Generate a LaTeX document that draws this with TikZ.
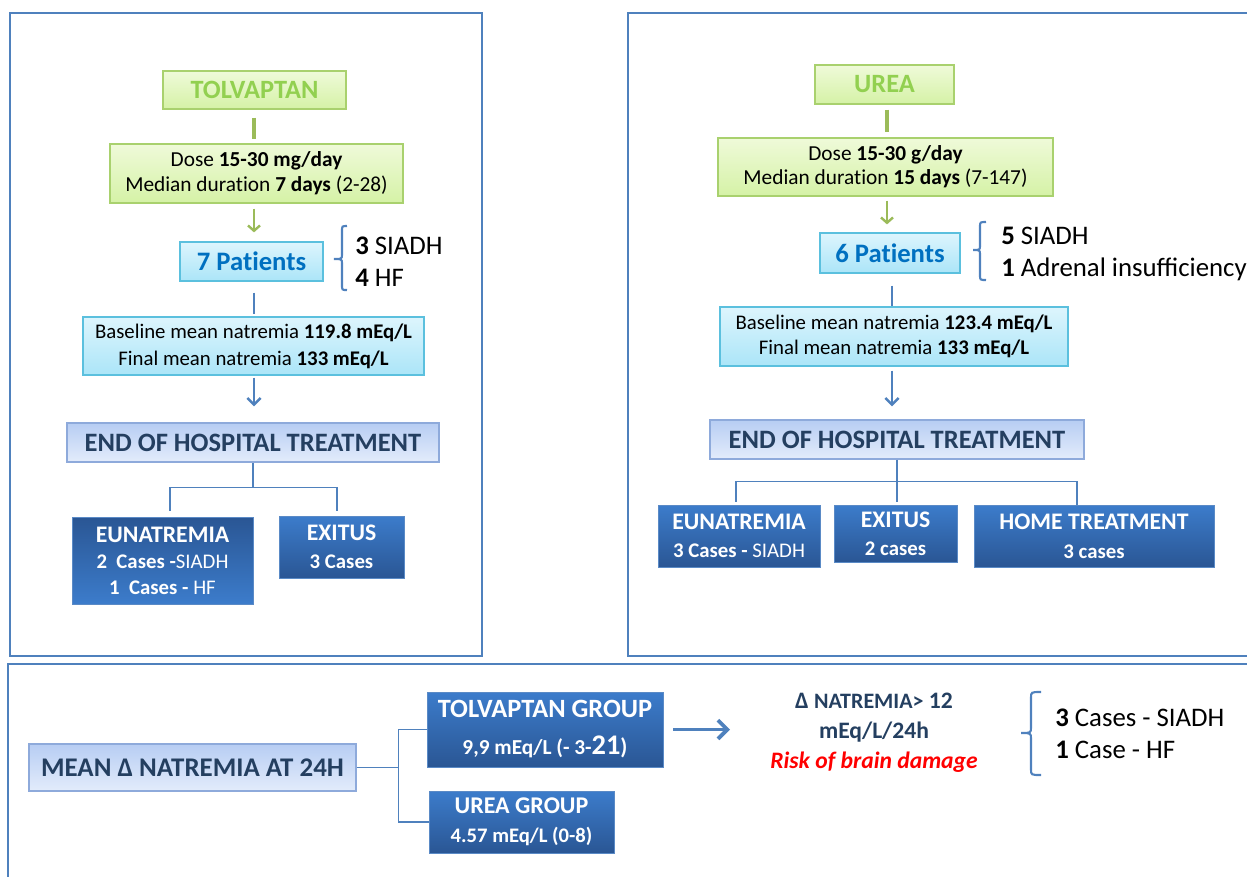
\documentclass[tikz,border=0pt]{standalone}
\usepackage{fontspec}
\setmainfont{Carlito}
\usetikzlibrary{arrows.meta,calc}
\definecolor{framecol}{HTML}{4F81BD}
\definecolor{greenedge}{HTML}{A9D16E}
\definecolor{greentop}{HTML}{EFFAD9}
\definecolor{greenbot}{HTML}{D5F2A6}
\definecolor{tolvgreen}{HTML}{92D050}
\definecolor{glinecol}{HTML}{9BBB59}
\definecolor{cyanedge}{HTML}{5BC0DE}
\definecolor{cyantop}{HTML}{DDF5FD}
\definecolor{cyanbot}{HTML}{ABE5F8}
\definecolor{patblue}{HTML}{0070C0}
\definecolor{lavedge}{HTML}{8EAADB}
\definecolor{lavtop}{HTML}{B7CDF3}
\definecolor{lavbot}{HTML}{E3ECFB}
\definecolor{navytext}{HTML}{243F60}
\definecolor{dlight}{HTML}{3C7CCB}
\definecolor{ddark}{HTML}{2A5694}
\definecolor{dedge}{HTML}{5A8AC6}
\definecolor{riskred}{HTML}{FF0000}
\newcommand\fz[2]{\fontsize{#1}{#2}\selectfont}
\newcommand\tisep{t\kern0pt i}
\begin{document}
\begin{tikzpicture}[x=0.75pt,y=-0.75pt,
  frame/.style={draw=framecol, line width=1.5pt},
  gbox/.style={draw=greenedge, line width=0.9pt, top color=greentop, bottom color=greenbot, align=center, inner sep=0pt},
  cbox/.style={draw=cyanedge, line width=0.9pt, top color=cyantop, bottom color=cyanbot, align=center, inner sep=0pt},
  lbox/.style={draw=lavedge, line width=0.9pt, top color=lavtop, bottom color=lavbot, align=center, inner sep=0pt, text=navytext, font=\fz{19.9}{22}\bfseries},
  dup/.style={draw=dedge, line width=0.6pt, top color=dlight, bottom color=ddark, align=center, inner sep=0pt, text=white},
  ddown/.style={draw=dedge, line width=0.6pt, top color=ddark, bottom color=dlight, align=center, inner sep=0pt, text=white},
  gln/.style={draw=glinecol, line width=2.4pt},
  garr/.style={draw=glinecol, line width=1.8pt, -{Straight Barb[length=4pt,width=9pt]}},
  bln/.style={draw=framecol, line width=2.2pt},
  barr/.style={draw=framecol, line width=1.9pt, -{Straight Barb[length=5pt,width=10pt]}},
  bigarr/.style={draw=framecol, line width=2.8pt, -{Straight Barb[length=7pt,width=14pt]}},
  conn/.style={draw=framecol, line width=0.8pt},
  brc/.style={draw=framecol, line width=1.6pt},
  lbl/.style={align=left, anchor=west, inner sep=0pt, font=\fz{20.1}{24}},
]
\useasboundingbox (0,0) rectangle (1247,876);
% frames
\draw[frame] (10,13) rectangle (482,656);
\draw[frame] (628,13) rectangle (1262,656);
\draw[frame] (8,664) rectangle (1262,890);

% ---------- left panel ----------
\node[gbox, minimum width=137.25pt, minimum height=28.5pt, text=tolvgreen, font=\fz{19.8}{21}\bfseries] (tolv) at (254.5,90) {TOLVAPTAN};
\node[gbox, minimum width=219.75pt, minimum height=44.25pt, font=\fz{16}{18.75}] (dose1) at (256.5,173.5) {Dose \textbf{15-30 mg/day}\\Median dura\tisep on \textbf{7 days} (2-28)};
\node[cbox, minimum width=107.25pt, minimum height=29.25pt, text=patblue, font=\fz{20}{23}\bfseries] (pat1) at (251.5,261.5) {7 Pa\tisep ents};
\node[lbl] (cause1) at (355,261.5) {\textbf{3} SIADH\\\textbf{4} HF};
\node[cbox, minimum width=255.75pt, minimum height=43.5pt, font=\fz{15.6}{20}] (base1) at (253.5,346) {Baseline mean natremia \textbf{119.8 mEq/L}\\Final mean natremia \textbf{133 mEq/L}};
\node[lbox, minimum width=279pt, minimum height=29.25pt] (end1) at (253,442.5) {END OF HOSPITAL TREATMENT};
\node[ddown, minimum width=135.75pt, minimum height=65.25pt, font=\fz{15.6}{19.5}\bfseries] (eun1) at (162.5,560.5) {{\fz{17.8}{19.5}EUNATREMIA}\\2\ \ Cases -{\mdseries SIADH}\\1\ \ Cases - {\mdseries HF}};
\node[dup, minimum width=93.75pt, minimum height=46.5pt, font=\fz{15.6}{21}\bfseries] (exi1) at (341.5,547) {{\fz{17.8}{21}EXITUS}\\3 Cases};

\coordinate (axL) at (254,0);
\draw[gln, shorten <=6pt, shorten >=3pt] (tolv.south -| axL) -- (dose1.north -| axL);
\draw[garr, shorten <=3.75pt, shorten >=6.75pt] (dose1.south -| axL) -- (pat1.north -| axL);
\draw[bln, shorten <=8.25pt, shorten >=1.5pt] (pat1.south -| axL) -- (base1.north -| axL);
\draw[barr, shorten <=1.5pt, shorten >=12pt] (base1.south -| axL) -- (end1.north -| axL);
\draw[conn] (end1.south) -- ++(0,24.5) coordinate (jL);
\draw[conn] ([xshift=5.6pt,yshift=4.5pt]eun1.north) |- (jL) -| ([xshift=-3.4pt,yshift=3.75pt]exi1.north);
\draw[brc] (347,226) .. controls (342,226) .. (342,231) -- (342,254) .. controls (342,259) .. (334,259) .. controls (342,259) .. (342,264) -- (342,285) .. controls (342,290) .. (347,290);

% ---------- right panel ----------
\node[gbox, minimum width=104.25pt, minimum height=29.25pt, text=tolvgreen, font=\fz{19.8}{21}\bfseries] (urea) at (884.5,84.5) {UREA};
\node[gbox, minimum width=251.25pt, minimum height=43.5pt, font=\fz{16}{18}] (dose2) at (885.5,167) {Dose \textbf{15-30 g/day}\\Median dura\tisep on \textbf{15 days} (7-147)};
\node[cbox, minimum width=105pt, minimum height=30pt, text=patblue, font=\fz{20}{23}\bfseries] (pat2) at (890,253) {6 Pa\tisep ents};
\node[lbl] (cause2) at (1001,254) {\textbf{5} SIADH\\\textbf{1} Adrenal insufficiency};
\node[cbox, minimum width=261pt, minimum height=44.25pt, font=\fz{15.6}{18.75}] (base2) at (894,336.5) {Baseline mean natremia \textbf{123.4 mEq/L}\\Final mean natremia \textbf{133 mEq/L}};
\node[lbox, minimum width=280.5pt, minimum height=29.25pt] (end2) at (897,439.5) {END OF HOSPITAL TREATMENT};
\node[dup, minimum width=121.5pt, minimum height=46.5pt, font=\fz{15.6}{21.5}\bfseries] (eun2) at (739,536) {{\fz{17.8}{21.5}EUNATREMIA}\\3 Cases - {\mdseries SIADH}};
\node[dup, minimum width=92.25pt, minimum height=42.75pt, font=\fz{15.6}{21}\bfseries] (exi2) at (895.5,533.5) {{\fz{17.8}{21}EXITUS}\\2 cases};
\node[dup, minimum width=180pt, minimum height=46.5pt, font=\fz{15.6}{21.5}\bfseries] (home2) at (1094,536) {{\fz{17.8}{21.5}HOME TREATMENT}\\3 cases};

\coordinate (axRg) at (887,0);
\coordinate (axRb) at (892,0);
\draw[gln, shorten <=3.75pt, shorten >=3.75pt] (urea.south -| axRg) -- (dose2.north -| axRg);
\draw[garr, shorten <=3pt, shorten >=6pt] (dose2.south -| axRg) -- (pat2.north -| axRg);
\draw[bln, shorten <=9pt] (pat2.south -| axRb) -- (base2.north -| axRb);
\draw[barr, shorten <=3pt, shorten >=9.75pt] (base2.south -| axRb) -- (end2.north -| axRb);
\draw[conn] (end2.south) -- ++(0,22) coordinate (jR);
\draw[conn] ([xshift=-2.25pt,yshift=2.25pt]eun2.north) |- (jR) -| ([xshift=-12.75pt]home2.north);
\draw[conn] (jR) -- ([yshift=2.25pt]exi2.north -| jR);
\draw[brc] (986,222) .. controls (980,222) .. (980,227) -- (980,245) .. controls (980,250) .. (973,250) .. controls (980,250) .. (980,255) -- (980,275) .. controls (980,280) .. (986,280);

% ---------- bottom panel ----------
\node[lbox, minimum width=245.25pt, minimum height=35.25pt, font=\fz{20.2}{22}\bfseries] (mean) at (192.5,767.5) {MEAN Δ NATREMIA AT 24H};
\node[dup, minimum width=177pt, minimum height=56.25pt, font=\fz{16}{27.75}\bfseries] (tgrp) at (545,729.5) {{\fz{19.8}{27.75}TOLVAPTAN GROUP}\\9,9 mEq/L (- 3-{\fz{21.3}{27.75}21}{\fz{17}{27.75})}};
\node[dup, minimum width=138.75pt, minimum height=46.5pt, font=\fz{15.5}{21.75}\bfseries] (ugrp) at (521.5,822) {{\fz{18}{21.75}UREA GROUP}\\4.57 mEq/L (0-8)};
\draw[conn] (mean.east) -- ++(42,0) coordinate (jB);
\draw[conn] (tgrp.west) -| (jB) |- (ugrp.west);
\coordinate (arrEnd) at (730,729.5);
\draw[bigarr, shorten <=7.5pt] (tgrp.east) -- (arrEnd);
\node[align=center, inner sep=0pt, text=navytext, font=\fz{17.7}{22.5}\bfseries] (dtxt) at (874,733) {Δ {\fz{16.5}{22.5}NATREMIA>} 12\\mEq/L/24h\\{\color{riskred}\itshape Risk of brain damage}};
\draw[brc] (1041,692) .. controls (1031,692) .. (1031,698) -- (1031,727) .. controls (1031,733) .. (1021,733) .. controls (1031,733) .. (1031,739) -- (1031,769) .. controls (1031,775) .. (1041,775);
\node[lbl] (cause3) at (1055,734) {\textbf{3} Cases - SIADH\\\textbf{1} Case - HF};
\end{tikzpicture}
\end{document}
